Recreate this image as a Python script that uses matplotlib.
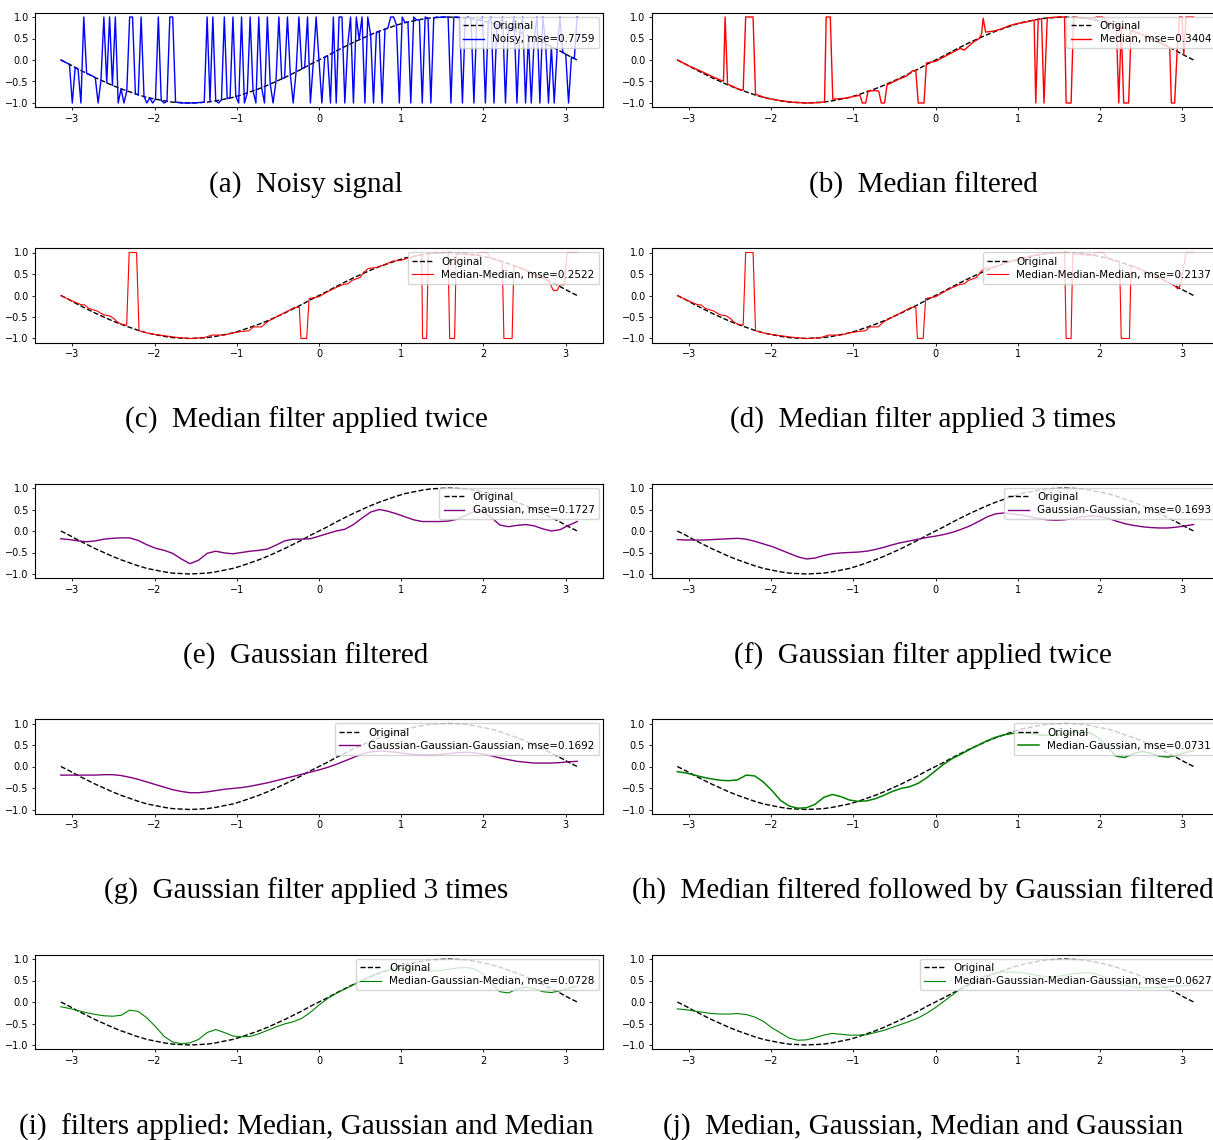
import matplotlib
matplotlib.use("Agg")
import matplotlib.pyplot as plt
import numpy as np

# clean sine on a 61 point grid, -pi .. pi
ORIGINAL = [0.00, -0.10, -0.21, -0.31, -0.41, -0.50, -0.59, -0.67, -0.74, -0.81,
            -0.87, -0.91, -0.95, -0.98, -0.99, -1.00, -0.99, -0.98, -0.95, -0.91,
            -0.87, -0.81, -0.74, -0.67, -0.59, -0.50, -0.41, -0.31, -0.21, -0.10,
            0.00, 0.10, 0.21, 0.31, 0.41, 0.50, 0.59, 0.67, 0.74, 0.81,
            0.87, 0.91, 0.95, 0.98, 0.99, 1.00, 0.99, 0.98, 0.95, 0.91,
            0.87, 0.81, 0.74, 0.67, 0.59, 0.50, 0.41, 0.31, 0.21, 0.10, 0.00]

# salt and pepper noisy signal, 181 samples
NOISY = [0.00, -0.03, -0.07, -0.10, -1, -0.17, -0.21, -1, 1, -0.31,
         -0.34, -0.37, -0.41, -1, -0.47, 1, -0.53, 1, -0.59, 1,
         -1, -0.67, -1, -0.72, 1, 1, -0.79, -0.81, 1, -0.85,
         -1, -0.88, -1, -0.91, 1, -0.94, -1, -0.96, 1, 1,
         -0.98, -0.99, -1, -1.00, -1.00, -1, -1.00, -1, -0.99, -0.99,
         -0.98, 1, -0.97, 1, -0.95, -1, -0.93, 1, -0.90, -0.88,
         1, -0.85, -1, 1, -1, -0.77, 1, -0.72, -1, 1,
         -0.64, -1, 1, -0.56, -1, -0.50, 1, -0.44, -0.41, 1,
         -0.34, -1, -0.28, 1, -0.21, -0.17, 1, -1, -0.07, 1,
         0.00, -1, 0.07, 0.10, -1, 1, -1, 1, 1, -1,
         0.34, 1, -1, 1, 0.47, 1, -1, 1, 0.59, -1,
         0.64, 0.67, -1, 0.72, 0.74, 1, 1, 0.81, -1, 1,
         0.87, 0.88, -1, 1, 0.93, 0.94, -1, 1, 0.97, -1,
         0.98, 1, 0.99, 1, 1.00, 1, -1, 1.00, 1, 0.99,
         -1, 0.98, 1, 0.96, -1, 0.94, 0.92, 1, -1, 0.89,
         1, -1, 0.83, 0.81, 1, -1, 0.74, 0.72, 1, -1,
         0.64, 1, -1, 0.56, -1, 0.50, 1, -1, 1, 0.37,
         -1, 0.31, -1, 0.24, 1, 0.17, 0.14, -1, 0.07, 0.03, 1]

# median filtered outputs, read as break points
MEDIAN_X = [-3.14, -3.00, -2.90, -2.80, -2.70, -2.60, -2.58, -2.56, -2.53, -2.45,
            -2.37, -2.34, -2.31, -2.22, -2.19, -2.05, -1.90, -1.75, -1.57, -1.40,
            -1.35, -1.33, -1.28, -1.25, -1.10, -0.95, -0.92, -0.89, -0.85, -0.82,
            -0.73, -0.69, -0.66, -0.62, -0.59, -0.45, -0.35, -0.28, -0.24, -0.21,
            -0.14, -0.11, 0.00, 0.10, 0.20, 0.30, 0.35, 0.45, 0.53, 0.56,
            0.58, 0.61, 0.70, 0.80, 0.90, 1.00, 1.10, 1.20, 1.22, 1.25,
            1.29, 1.32, 1.36, 1.50, 1.57, 1.59, 1.65, 1.68, 1.90, 1.96,
            2.03, 2.10, 2.20, 2.23, 2.26, 2.29, 2.35, 2.38, 2.50, 2.60,
            2.70, 2.80, 2.85, 2.87, 2.91, 2.94, 2.97, 3.00, 3.02, 3.05, 3.14]
MEDIAN_Y = [0.00, -0.14, -0.22, -0.31, -0.40, -0.48, -0.49, 1.00, -0.56, -0.63,
            -0.70, -0.70, 1.00, 1.00, -0.80, -0.89, -0.94, -0.98, -1.00, -0.99,
            -0.97, 1.00, 1.00, -0.91, -0.89, -0.83, -0.82, -1.00, -1.00, -0.72,
            -0.71, -0.73, -1.00, -1.00, -0.58, -0.45, -0.37, -0.25, -0.24, -1.00,
            -1.00, -0.07, -0.03, 0.07, 0.17, 0.27, 0.23, 0.40, 0.50, 0.60,
            0.97, 0.65, 0.67, 0.72, 0.80, 0.85, 0.88, 0.93, -1.00, 0.95,
            0.96, -1.00, 0.98, 1.00, 1.00, -1.00, -1.00, 1.00, 0.95, 1.00,
            1.00, 0.87, 0.81, -1.00, 0.78, -1.00, -1.00, 0.68, 0.60, 0.52,
            0.43, 0.33, 0.29, -1.00, -1.00, 0.20, 1.00, 1.00, 0.12, 1.00, 1.00]

MEDIAN2_X = [-3.14, -3.00, -2.90, -2.85, -2.80, -2.70, -2.62, -2.55, -2.50, -2.45,
             -2.40, -2.34, -2.31, -2.22, -2.19, -2.05, -1.90, -1.75, -1.57, -1.40,
             -1.35, -1.30, -1.15, -1.05, -0.95, -0.85, -0.80, -0.70, -0.62, -0.50,
             -0.40, -0.30, -0.24, -0.22, -0.15, -0.12, 0.00, 0.10, 0.20, 0.30,
             0.35, 0.40, 0.50, 0.55, 0.60, 0.70, 0.80, 0.90, 1.00, 1.10,
             1.20, 1.25, 1.26, 1.31, 1.33, 1.45, 1.57, 1.59, 1.65, 1.67,
             1.80, 1.90, 1.97, 2.04, 2.10, 2.20, 2.23, 2.25, 2.35, 2.37,
             2.50, 2.60, 2.70, 2.80, 2.85, 2.90, 2.93, 2.98, 3.02, 3.14]
MEDIAN2_Y = [0.00, -0.13, -0.21, -0.22, -0.30, -0.36, -0.45, -0.47, -0.53, -0.62,
             -0.67, -0.69, 1.00, 1.00, -0.82, -0.89, -0.93, -0.97, -1.00, -0.98,
             -0.95, -0.92, -0.92, -0.87, -0.84, -0.82, -0.73, -0.73, -0.60, -0.48,
             -0.38, -0.28, -0.27, -1.00, -1.00, -0.07, -0.03, 0.08, 0.18, 0.26,
             0.27, 0.35, 0.42, 0.55, 0.63, 0.65, 0.72, 0.80, 0.82, 0.88,
             0.93, 0.95, -1.00, -1.00, 0.97, 0.99, 1.00, -1.00, -1.00, 0.97,
             0.95, 0.93, 1.00, 1.00, 0.86, 0.80, 0.79, -1.00, -1.00, 0.70,
             0.60, 0.51, 0.43, 0.33, 0.12, 0.12, 0.25, 0.25, 1.00, 1.00]

MEDIAN3_X = [-3.14, -3.00, -2.90, -2.85, -2.80, -2.70, -2.62, -2.55, -2.50, -2.45,
             -2.40, -2.34, -2.31, -2.22, -2.19, -2.05, -1.90, -1.75, -1.57, -1.40,
             -1.35, -1.30, -1.15, -1.05, -0.95, -0.85, -0.80, -0.70, -0.62, -0.50,
             -0.40, -0.30, -0.24, -0.22, -0.15, -0.12, 0.00, 0.10, 0.20, 0.30,
             0.35, 0.40, 0.50, 0.55, 0.60, 0.70, 0.80, 0.90, 1.00, 1.10,
             1.20, 1.33, 1.45, 1.57, 1.59, 1.65, 1.67, 1.80, 1.90, 1.97,
             2.04, 2.10, 2.20, 2.24, 2.26, 2.36, 2.38, 2.50, 2.60, 2.70,
             2.80, 2.90, 2.95, 2.98, 3.05, 3.14]
MEDIAN3_Y = [0.00, -0.13, -0.21, -0.22, -0.30, -0.36, -0.45, -0.47, -0.53, -0.62,
             -0.67, -0.69, 1.00, 1.00, -0.82, -0.89, -0.93, -0.97, -1.00, -0.98,
             -0.95, -0.92, -0.92, -0.87, -0.84, -0.82, -0.73, -0.73, -0.60, -0.48,
             -0.38, -0.28, -0.27, -1.00, -1.00, -0.07, -0.03, 0.08, 0.18, 0.26,
             0.27, 0.35, 0.42, 0.55, 0.63, 0.65, 0.72, 0.80, 0.82, 0.88,
             0.93, 0.97, 0.99, 1.00, -1.00, -1.00, 0.97, 0.95, 0.93, 1.00,
             1.00, 0.86, 0.80, 0.79, -1.00, -1.00, 0.70, 0.60, 0.51, 0.43,
             0.33, 0.24, 0.15, 0.25, 1.00, 1.00]

# gaussian type outputs on the same 61 point grid as ORIGINAL
GAUSS = [-0.18, -0.20, -0.23, -0.25, -0.23, -0.19, -0.17, -0.16, -0.16, -0.22,
         -0.32, -0.40, -0.45, -0.52, -0.65, -0.76, -0.68, -0.52, -0.47, -0.51,
         -0.53, -0.50, -0.47, -0.45, -0.42, -0.33, -0.23, -0.19, -0.19, -0.18,
         -0.12, -0.06, 0.00, 0.04, 0.15, 0.30, 0.44, 0.50, 0.46, 0.40,
         0.33, 0.26, 0.22, 0.22, 0.22, 0.23, 0.27, 0.36, 0.45, 0.46,
         0.32, 0.14, 0.10, 0.13, 0.15, 0.12, 0.05, 0.00, 0.03, 0.13, 0.22]
GAUSS2 = [-0.20, -0.21, -0.21, -0.21, -0.20, -0.19, -0.18, -0.17, -0.19, -0.24,
          -0.30, -0.36, -0.44, -0.52, -0.60, -0.65, -0.63, -0.57, -0.53, -0.51,
          -0.50, -0.49, -0.47, -0.43, -0.38, -0.32, -0.27, -0.23, -0.19, -0.15,
          -0.12, -0.08, -0.03, 0.04, 0.12, 0.22, 0.33, 0.40, 0.42, 0.40,
          0.37, 0.33, 0.29, 0.26, 0.25, 0.26, 0.29, 0.33, 0.35, 0.34,
          0.30, 0.23, 0.17, 0.13, 0.10, 0.08, 0.07, 0.07, 0.09, 0.12, 0.15]
GAUSS3 = [-0.20, -0.20, -0.20, -0.20, -0.20, -0.19, -0.19, -0.21, -0.25, -0.30,
          -0.36, -0.42, -0.48, -0.54, -0.58, -0.61, -0.61, -0.59, -0.56, -0.53,
          -0.51, -0.49, -0.46, -0.42, -0.38, -0.33, -0.28, -0.23, -0.18, -0.13,
          -0.08, -0.02, 0.05, 0.13, 0.21, 0.29, 0.34, 0.36, 0.35, 0.33,
          0.30, 0.28, 0.27, 0.27, 0.28, 0.30, 0.32, 0.33, 0.32, 0.29,
          0.25, 0.20, 0.16, 0.12, 0.10, 0.08, 0.08, 0.08, 0.09, 0.11, 0.12]
MED_GAUSS = [-0.12, -0.15, -0.20, -0.25, -0.29, -0.32, -0.33, -0.31, -0.20, -0.22,
             -0.36, -0.56, -0.79, -0.92, -0.97, -0.96, -0.88, -0.72, -0.65, -0.70,
             -0.78, -0.81, -0.80, -0.75, -0.67, -0.58, -0.51, -0.47, -0.39, -0.26,
             -0.10, 0.06, 0.19, 0.29, 0.40, 0.50, 0.60, 0.68, 0.74, 0.77,
             0.78, 0.77, 0.74, 0.72, 0.73, 0.76, 0.79, 0.80, 0.78, 0.66,
             0.44, 0.24, 0.21, 0.30, 0.35, 0.31, 0.24, 0.22, 0.26, 0.32, 0.37]
MED_GAUSS_MED = [-0.11, -0.15, -0.20, -0.25, -0.29, -0.32, -0.33, -0.31, -0.19, -0.22,
                 -0.37, -0.57, -0.80, -0.93, -0.97, -0.95, -0.87, -0.71, -0.64, -0.71,
                 -0.79, -0.81, -0.80, -0.74, -0.66, -0.58, -0.51, -0.46, -0.38, -0.24,
                 -0.07, 0.08, 0.20, 0.30, 0.40, 0.50, 0.60, 0.68, 0.74, 0.77,
                 0.78, 0.77, 0.74, 0.72, 0.73, 0.76, 0.79, 0.80, 0.78, 0.66,
                 0.44, 0.24, 0.21, 0.30, 0.35, 0.31, 0.24, 0.22, 0.26, 0.32, 0.37]
MED_GAUSS_MED_GAUSS = [-0.16, -0.18, -0.21, -0.24, -0.27, -0.28, -0.28, -0.27, -0.29, -0.35,
                       -0.45, -0.60, -0.72, -0.84, -0.89, -0.88, -0.83, -0.77, -0.73, -0.75,
                       -0.77, -0.77, -0.76, -0.71, -0.66, -0.59, -0.52, -0.45, -0.37, -0.26,
                       -0.13, 0.02, 0.17, 0.32, 0.45, 0.55, 0.62, 0.67, 0.70, 0.70,
                       0.68, 0.65, 0.61, 0.59, 0.59, 0.62, 0.66, 0.68, 0.68, 0.63,
                       0.54, 0.45, 0.39, 0.35, 0.33, 0.33, 0.34, 0.35, 0.37, 0.38, 0.40]

LABELS = ["Noisy, mse=0.7759", "Median, mse=0.3404",
          "Median-Median, mse=0.2522", "Median-Median-Median, mse=0.2137",
          "Gaussian, mse=0.1727", "Gaussian-Gaussian, mse=0.1693",
          "Gaussian-Gaussian-Gaussian, mse=0.1692", "Median-Gaussian, mse=0.0731",
          "Median-Gaussian-Median, mse=0.0728",
          "Median-Gaussian-Median-Gaussian, mse=0.0627"]
CAPTIONS = ["(a)  Noisy signal", "(b)  Median filtered",
            "(c)  Median filter applied twice", "(d)  Median filter applied 3 times",
            "(e)  Gaussian filtered", "(f)  Gaussian filter applied twice",
            "(g)  Gaussian filter applied 3 times",
            "(h)  Median filtered followed by Gaussian filtered",
            "(i)  filters applied: Median, Gaussian and Median",
            "(j)  Median, Gaussian, Median and Gaussian"]

W, H = 1213, 1140


def grid(values):
    return np.linspace(-np.pi, np.pi, len(values))


def main():
    fig = plt.figure(figsize=(W / 100, H / 100), dpi=100)

    series = [
        (grid(NOISY), NOISY, "b", 1.0),
        (MEDIAN_X, MEDIAN_Y, "r", 1.0),
        (MEDIAN2_X, MEDIAN2_Y, "r", 0.8),
        (MEDIAN3_X, MEDIAN3_Y, "r", 0.8),
        (grid(GAUSS), GAUSS, "purple", 1.0),
        (grid(GAUSS2), GAUSS2, "purple", 1.0),
        (grid(GAUSS3), GAUSS3, "purple", 1.0),
        (grid(MED_GAUSS), MED_GAUSS, "g", 1.1),
        (grid(MED_GAUSS_MED), MED_GAUSS_MED, "g", 0.8),
        (grid(MED_GAUSS_MED_GAUSS), MED_GAUSS_MED_GAUSS, "g", 0.8),
    ]

    col_left = [35, 651.5]
    col_center = [306, 923]
    ax_w, ax_h = 568, 94.6
    row_step = 235.5

    for i, (xs, ys, color, lw) in enumerate(series):
        row, col = divmod(i, 2)
        top = 12.7 + row * row_step
        ax = fig.add_axes([col_left[col] / W, 1 - (top + ax_h) / H,
                           ax_w / W, ax_h / H])
        ax.plot(grid(ORIGINAL), ORIGINAL, "k--", lw=1.0, label="Original")
        ax.plot(xs, ys, color=color, lw=lw, label=LABELS[i])
        ax.set_yticks([-1.0, -0.5, 0.0, 0.5, 1.0])
        ax.tick_params(labelsize=7, length=2.5, width=0.6, pad=2)
        for sp in ax.spines.values():
            sp.set_linewidth(0.8)
        ax.legend(loc="upper right", fontsize=7.5, handlelength=2.0,
                  borderaxespad=0.4, labelspacing=0.3)

        cap_y = 1 - (185 + row * row_step) / H
        fig.text(col_center[col] / W, cap_y, CAPTIONS[i],
                 family="Liberation Serif", fontsize=21,
                 ha="center", va="center")

    fig.savefig("out.png", dpi=100)


if __name__ == '__main__':
    main()
